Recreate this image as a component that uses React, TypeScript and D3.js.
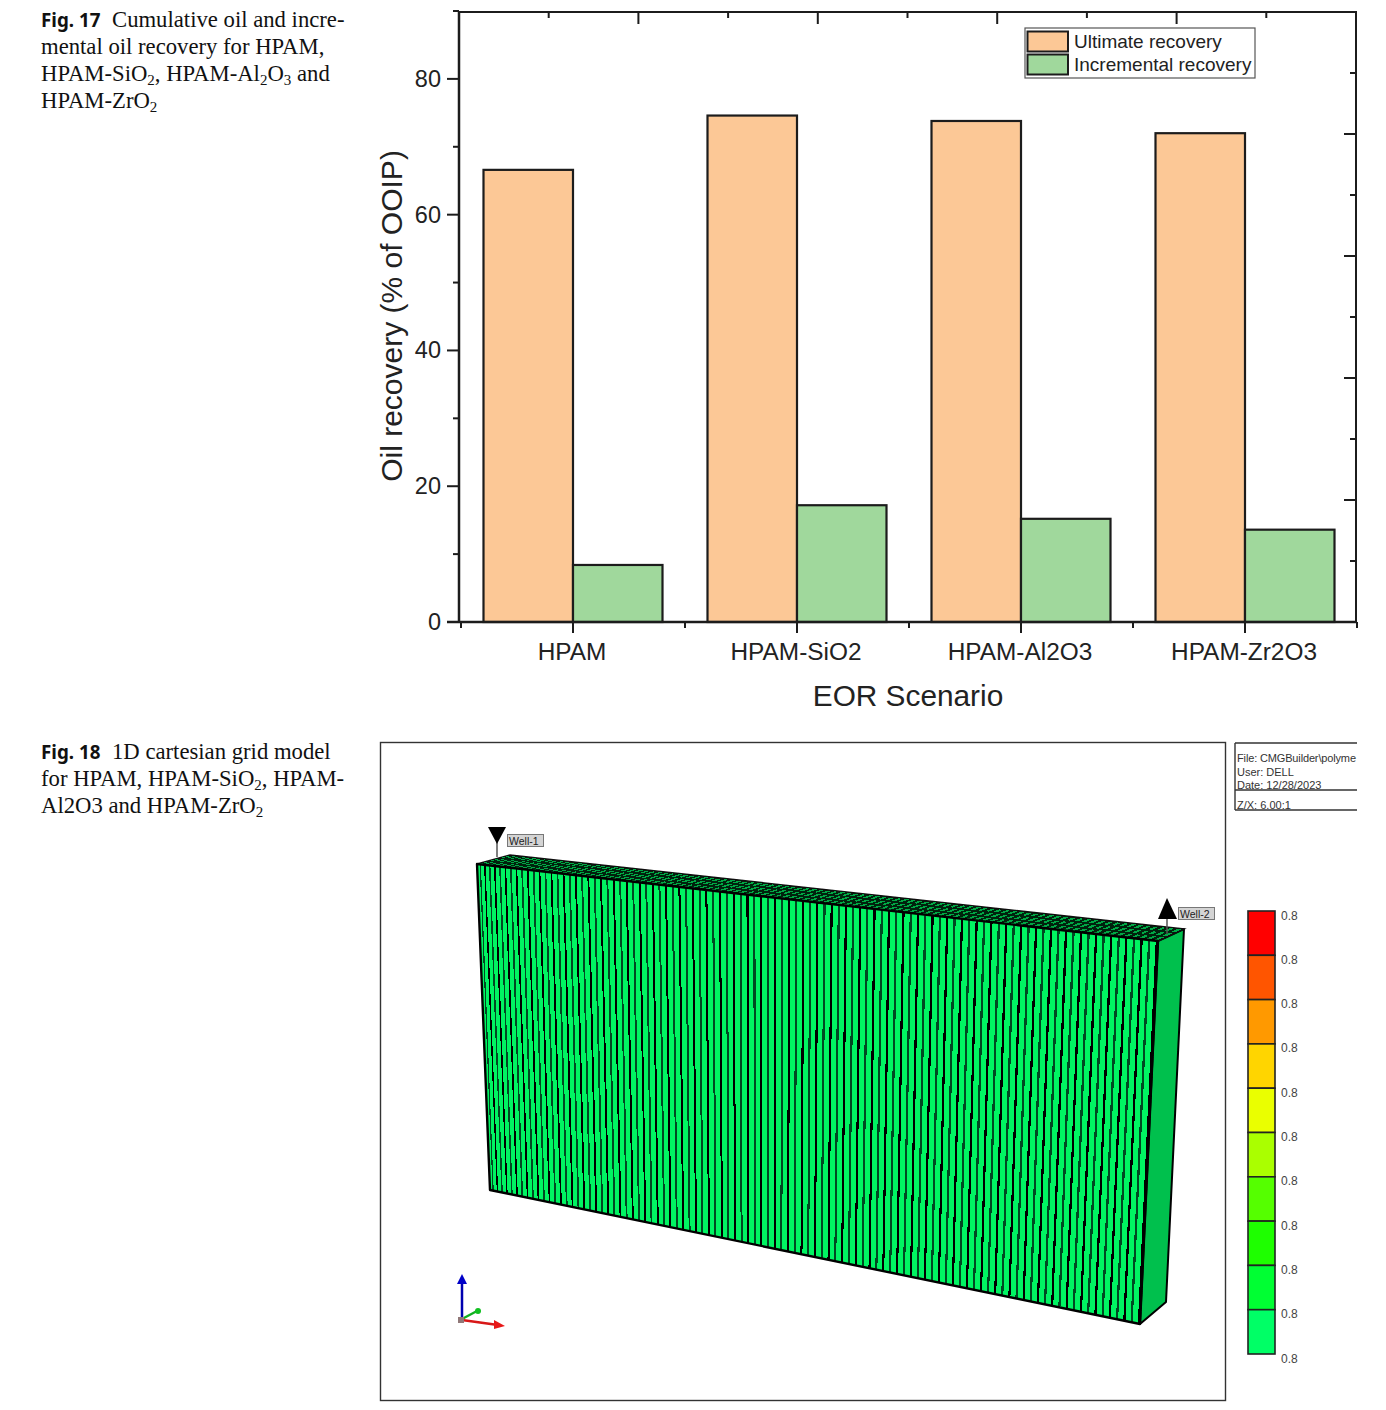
import React from "react";
import * as d3 from "d3";

const categories = ["HPAM", "HPAM-SiO2", "HPAM-Al2O3", "HPAM-Zr2O3"];
const seriesNames = ["Ultimate recovery", "Incremental recovery"];
const ultimate = [66.6, 74.6, 73.8, 72.0];
const incremental = [8.4, 17.2, 15.2, 13.6];
const yMajor = [0, 20, 40, 60, 80];
const yMinor = [10, 30, 50, 70, 90];
const frameTicks = d3.range(1, 10);
const legendColors = ["#ff0000", "#ff5500", "#ff9900", "#ffd500", "#eaff00", "#aaff00", "#55ff00", "#1eff00", "#00ff33", "#00ff66"];
const colorLabels = ["0.8", "0.8", "0.8", "0.8", "0.8", "0.8", "0.8", "0.8", "0.8", "0.8", "0.8"];
const infoLines = ["File: CMGBuilder\\polyme", "User:  DELL", "Date: 12/28/2023"];
const gridCells = d3.range(0, 100);
const topRows = d3.range(0, 3);

const ORANGE = "#fcc896";
const GREEN = "#a0d89c";
const INK = "#1c1c1c";
const SANS = "'Liberation Sans', Arial, sans-serif";
const SERIF = "'Liberation Serif', 'Times New Roman', serif";
const CAPTION_BOLD = "'Noto Sans', 'Open Sans', sans-serif";

const y = d3.scaleLinear().domain([0, 90]).range([622, 11]);
const x0 = d3.scaleBand<string>().domain(categories).range([461.5, 1357.5]);
const x1 = d3.scaleBand<string>().domain(seriesNames).range([22, 201]);
const topX = d3.scaleLinear().domain([0, 10]).range([459, 1356]);
const rightY = d3.scaleLinear().domain([0, 10]).range([622, 12]);
const colorY = d3.scaleBand<string>().domain(legendColors).range([911, 1354]);
const colorTickY = d3.scaleLinear().domain([0, 10]).range([915, 1358]);

// Perspective of the grid block: cell boundaries along its upper and lower front edges.
const persp = d3.scalePow().exponent(1.12).domain([0, 100]).range([0, 1]);
const frontTopX = d3.scaleLinear().domain([0, 1]).range([477, 1158]);
const frontTopY = d3.scaleLinear().domain([0, 1]).range([864, 941]);
const frontBotX = d3.scaleLinear().domain([0, 1]).range([490, 1140]);
const frontBotY = d3.scaleLinear().domain([0, 1]).range([1190, 1324]);
const backTopX = d3.scaleLinear().domain([0, 1]).range([510, 1184]);
const backTopY = d3.scaleLinear().domain([0, 1]).range([855, 929]);

const poly = (pts: number[][]) => pts.map((p) => p.join(",")).join(" ");
const face = (i: number, a: number, b: number) => {
  const t0 = persp(i + a), t1 = persp(i + b);
  return poly([
    [frontTopX(t0), frontTopY(t0)],
    [frontTopX(t1), frontTopY(t1)],
    [frontBotX(t1), frontBotY(t1)],
    [frontBotX(t0), frontBotY(t0)],
  ]);
};
const topCell = (i: number, r: number) => {
  const t0 = persp(i + 0.3), t1 = persp(i + 0.8);
  const f = (t: number, v: number) => [
    frontTopX(t) + (backTopX(t) - frontTopX(t)) * v,
    frontTopY(t) + (backTopY(t) - frontTopY(t)) * v,
  ];
  const v0 = (r + 0.15) / topRows.length, v1 = (r + 0.85) / topRows.length;
  return poly([f(t0, v0), f(t1, v0), f(t1, v1), f(t0, v1)]);
};

const Caption = ({ yy, x, bold, textX, parts }: any) => (
  <g fontFamily={SERIF} fontSize={22.7} fill="#111">
    {bold && <text x={x} y={yy} fontFamily={CAPTION_BOLD} fontWeight={700} fontSize={18.8}>{bold}</text>}
    <text x={textX ?? x} y={yy}>
      {parts.map((p: any, i: number) =>
        typeof p === "string" ? (
          <tspan key={i} dy={i > 0 ? -4 : 0}>{p}</tspan>
        ) : (
          <tspan key={i} fontSize={15} dy={i > 0 && typeof parts[i - 1] !== "string" ? 0 : 4}>{p.sub}</tspan>
        )
      )}
    </text>
  </g>
);

export default function App() {
  return (
    <svg width={1386} height={1410} style={{ position: "absolute", left: 0, top: 0, background: "#fff" }}>
      <defs>
        <filter id="soft" x="-5%" y="-5%" width="110%" height="110%">
          <feGaussianBlur stdDeviation="0.5" />
        </filter>
      </defs>
      <Caption yy={27} x={41} textX={112} bold="Fig. 17" parts={["Cumulative oil and incre-"]} />
      <Caption yy={54} x={41} parts={["mental oil recovery for HPAM,"]} />
      <Caption yy={81} x={41} parts={["HPAM-SiO", { sub: "2" }, ", HPAM-Al", { sub: "2" }, "O", { sub: "3" }, " and"]} />
      <Caption yy={108} x={41} parts={["HPAM-ZrO", { sub: "2" }]} />
      <Caption yy={759} x={41} textX={112} bold="Fig. 18" parts={["1D cartesian grid model"]} />
      <Caption yy={786} x={41} parts={["for HPAM, HPAM-SiO", { sub: "2" }, ", HPAM-"]} />
      <Caption yy={813} x={41} parts={["Al2O3 and HPAM-ZrO", { sub: "2" }]} />

      {/* bars */}
      {categories.map((c, i) => (
        <g key={c} transform={`translate(${x0(c)},0)`}>
          {[ultimate[i], incremental[i]].map((v, k) => (
            <rect key={k} x={x1(seriesNames[k])} y={y(v)} width={x1.bandwidth()} height={y(0) - y(v)}
              fill={k === 0 ? ORANGE : GREEN} stroke={INK} strokeWidth={2.2} />
          ))}
        </g>
      ))}

      {/* frame */}
      <g stroke={INK} strokeWidth={2} fill="none">
        <line x1={459} x2={459} y1={11} y2={622} strokeWidth={2.5} />
        <line x1={1356} x2={1356} y1={11} y2={622} />
        <line x1={458} x2={1357} y1={12} y2={12} />
        <line x1={447} x2={1357} y1={622} y2={622} strokeWidth={2.5} />
        {yMajor.map((v) => <line key={v} x1={447} x2={459} y1={y(v)} y2={y(v)} />)}
        {yMinor.map((v) => <line key={v} x1={453} x2={459} y1={y(v)} y2={y(v)} />)}
        {frameTicks.map((t) => <line key={t} x1={topX(t)} x2={topX(t)} y1={12} y2={t % 2 ? 18 : 24} />)}
        {frameTicks.map((t) => <line key={t} y1={rightY(t)} y2={rightY(t)} x2={1356} x1={t % 2 ? 1350 : 1344} />)}
        {[0, 1, 2, 3, 4, 5, 6, 7, 8].map((t) => {
          const xx = 461 + (t * x0.step()) / 2;
          return <line key={t} x1={xx} x2={xx} y1={622} y2={t % 2 ? 633 : 628} />;
        })}
      </g>
      {yMajor.map((v) => (
        <text key={v} x={441} y={y(v) + 8} textAnchor="end" fontFamily={SANS} fontSize={23.5} fill="#222">{v}</text>
      ))}
      {categories.map((c) => (
        <text key={c} x={(x0(c) as number) + x0.bandwidth() / 2 - 1.5} y={660} textAnchor="middle" fontFamily={SANS} fontSize={24.4} fill="#222">{c}</text>
      ))}
      <text x={908} y={706} textAnchor="middle" fontFamily={SANS} fontSize={29.8} fill="#222">EOR Scenario</text>
      <text transform="translate(402,316) rotate(-90)" textAnchor="middle" fontFamily={SANS} fontSize={30} fill="#222">Oil recovery (% of OOIP)</text>

      {/* legend */}
      <rect x={1025} y={28} width={230} height={50} fill="#fff" stroke="#555" strokeWidth={1.2} />
      {seriesNames.map((s, i) => (
        <g key={s}>
          <rect x={1027.5} y={31.5 + i * 23} width={40.5} height={20} fill={i ? GREEN : ORANGE} stroke={INK} strokeWidth={2} />
          <text x={1074} y={47.5 + i * 23} fontFamily={SANS} fontSize={19} fill="#222">{s}</text>
        </g>
      ))}

      {/* 3D view frame */}
      <rect x={380.5} y={742.5} width={845} height={658} fill="#fff" stroke="#333" strokeWidth={1.4} />

      {/* info box */}
      <g stroke="#333" strokeWidth={1.4}>
        <line x1={1235} x2={1357} y1={743} y2={743} />
        <line x1={1235} x2={1235} y1={743} y2={810} />
        <line x1={1235} x2={1357} y1={790} y2={790} />
        <line x1={1235} x2={1357} y1={810} y2={810} />
      </g>
      {infoLines.map((l, i) => (
        <text key={l} x={1237} y={762 + i * 13.5} fontFamily={SANS} fontSize={11} fill="#333" textLength={i === 0 ? 119 : undefined}>{l}</text>
      ))}
      <text x={1237} y={809} fontFamily={SANS} fontSize={11} fill="#333">Z/X: 6.00:1</text>

      <g filter="url(#soft)">
        {/* grid block: end face */}
        <polygon points={poly([[1158, 941], [1184, 929], [1166, 1302], [1140, 1324]])} fill="#00c04e" stroke="#000" strokeWidth={2} strokeLinejoin="round" />
        {/* top face */}
        <polygon points={poly([[477, 864], [510, 855], [1184, 929], [1158, 941]])} fill="#06200f" stroke="#111" strokeWidth={1.5} />
        {gridCells.map((i) => topRows.map((r) => (
          <polygon key={`${i}-${r}`} points={topCell(i, r)} fill="#00a844" shapeRendering="crispEdges" />
        )))}
        {/* front face */}
        <polygon points={poly([[477, 864], [1158, 941], [1140, 1324], [490, 1190]])} fill="#00f462" />
        {gridCells.map((i) => (
          <polygon key={i} points={face(i, 0.7, 1.0)} fill={i % 2 ? "#000" : "#004a22"} shapeRendering="crispEdges" />
        ))}
        <polygon points={poly([[477, 864], [1158, 941], [1140, 1324], [490, 1190]])} fill="none" stroke="#000" strokeWidth={2.4} strokeLinejoin="round" />
      </g>

      {/* wells */}
      <line x1={497} x2={497} y1={836} y2={857} stroke="#555" strokeWidth={1.5} />
      <polygon points={poly([[488, 827], [506, 827], [497, 844]])} fill="#000" />
      <rect x={507.5} y={834.5} width={36} height={12} fill="#d4d4d4" stroke="#777" />
      <text x={509} y={845} fontFamily={SANS} fontSize={10.5} fill="#222">Well-1</text>
      <line x1={1167} x2={1167} y1={912} y2={934} stroke="#555" strokeWidth={1.5} />
      <polygon points={poly([[1167, 898], [1158, 919], [1177, 919]])} fill="#000" />
      <rect x={1178.5} y={907.5} width={36} height={12} fill="#d4d4d4" stroke="#777" />
      <text x={1180} y={918} fontFamily={SANS} fontSize={10.5} fill="#222">Well-2</text>

      {/* axis triad */}
      <line x1={462} x2={462} y1={1319} y2={1280} stroke="#0000b0" strokeWidth={2.5} />
      <polygon points={poly([[462, 1274], [457, 1284], [467, 1284]])} fill="#0000c8" />
      <line x1={462} x2={477} y1={1319} y2={1311} stroke="#10b020" strokeWidth={2.5} />
      <circle cx={478} cy={1311} r={3} fill="#10c020" />
      <line x1={462} x2={498} y1={1320} y2={1325} stroke="#d81818" strokeWidth={2.5} />
      <polygon points={poly([[505, 1326], [494, 1320], [494, 1329]])} fill="#e81818" />
      <rect x={458} y={1317} width={6} height={6} fill="#907878" />

      {/* colour scale */}
      {legendColors.map((c) => (
        <rect key={c} x={1248} y={colorY(c)} width={27} height={colorY.bandwidth()} fill={c} stroke="#222" strokeWidth={1.6} />
      ))}
      {colorLabels.map((l, i) => (
        <text key={i} x={1281} y={colorTickY(i) + 4.5} fontFamily={SANS} fontSize={12} fill="#444">{l}</text>
      ))}
    </svg>
  );
}
